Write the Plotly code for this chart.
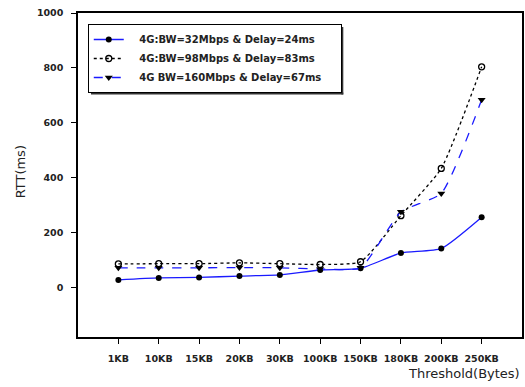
import plotly.graph_objects as go

categories = ["1KB", "10KB", "15KB", "20KB", "30KB", "100KB", "150KB", "180KB", "200KB", "250KB"]
s1_name = "4G:BW=32Mbps & Delay=24ms"
s1 = [28, 35, 37, 42, 46, 64, 70, 126, 142, 256]
s2_name = "4G:BW=98Mbps & Delay=83ms"
s2 = [86, 87, 87, 90, 87, 84, 94, 262, 434, 804]
s3_name = "4G BW=160Mbps & Delay=67ms"
s3 = [72, 72, 72, 73, 72, 68, 72, 276, 343, 684]

xs = list(range(len(categories)))
font = "DejaVu Sans, Arial, sans-serif"
pad_l = "\u00a0" * 3
pad_r = "\u00a0" * 4

fig = go.Figure()
fig.add_trace(go.Scatter(x=xs, y=s1, name=pad_l + s1_name + pad_r, mode="lines+markers",
                         line=dict(color="#1a1aff", width=1.3, shape="spline", smoothing=0.5),
                         marker=dict(symbol="circle", size=6, color="black")))
fig.add_trace(go.Scatter(x=xs, y=s2, name=pad_l + s2_name + pad_r, mode="lines+markers",
                         line=dict(color="black", width=1.3, dash="dot", shape="spline", smoothing=0.5),
                         marker=dict(symbol="circle-open", size=6, color="black", line=dict(width=1.3))))
fig.add_trace(go.Scatter(x=xs, y=s3, name=pad_l + s3_name + pad_r, mode="lines+markers",
                         line=dict(color="#1a1aff", width=1.3, dash="dash", shape="spline", smoothing=0.5),
                         marker=dict(symbol="triangle-down", size=7, color="black")))

L, T, W, H = 78, 13, 446, 324
def px(x):
    return (x - L) / W
def py(y):
    return (T + H - y) / H

fig.update_layout(
    width=525, height=387,
    margin=dict(l=78, r=1, t=13, b=50),
    paper_bgcolor="white", plot_bgcolor="white",
    font=dict(family=font, size=9, color="black"),
    showlegend=True,
    legend=dict(x=0.022, y=0.966, xanchor="left", yanchor="top",
                bordercolor="black", borderwidth=1, bgcolor="white",
                font=dict(size=10, family="DejaVu Sans", weight="bold", color="#222"),
                tracegroupgap=0, itemwidth=30),
    xaxis=dict(range=[-1, 10], tickmode="array", tickvals=xs, ticktext=categories,
               showline=True, linecolor="black", linewidth=1.5, mirror=True,
               ticks="outside", ticklen=5, tickcolor="black", tickwidth=1.3,
               showgrid=False, zeroline=False, ticklabelstandoff=7,
               tickfont=dict(size=9.5, weight="bold", color="#222")),
    yaxis=dict(range=[-180, 1000], tickvals=[0, 200, 400, 600, 800, 1000],
               showline=True, linecolor="black", linewidth=1.5, mirror=True,
               ticks="outside", ticklen=5, tickcolor="black", tickwidth=1.3,
               showgrid=False, zeroline=False, ticklabelstandoff=6,
               tickfont=dict(size=9.5, weight="bold", color="#222")),
    shapes=[
        dict(type="line", xref="paper", yref="paper", x0=px(343.5), x1=px(343.5),
             y0=py(27), y1=py(94.5), line=dict(color="#333", width=2), layer="above"),
        dict(type="line", xref="paper", yref="paper", x0=px(91), x1=px(344.5),
             y0=py(93.5), y1=py(93.5), line=dict(color="#333", width=2), layer="above"),
    ],
)
fig.add_annotation(text="Threshold(Bytes)", xref="paper", yref="paper", x=1, y=-0.114,
                   xanchor="right", yanchor="middle", showarrow=False,
                   font=dict(size=13, color="#222"))
fig.add_annotation(text="RTT(ms)", xref="paper", yref="paper", x=-0.13, y=0.509,
                   xanchor="center", yanchor="middle", showarrow=False, textangle=-90,
                   font=dict(size=13, color="#222"))

fig.write_html("out.html")
